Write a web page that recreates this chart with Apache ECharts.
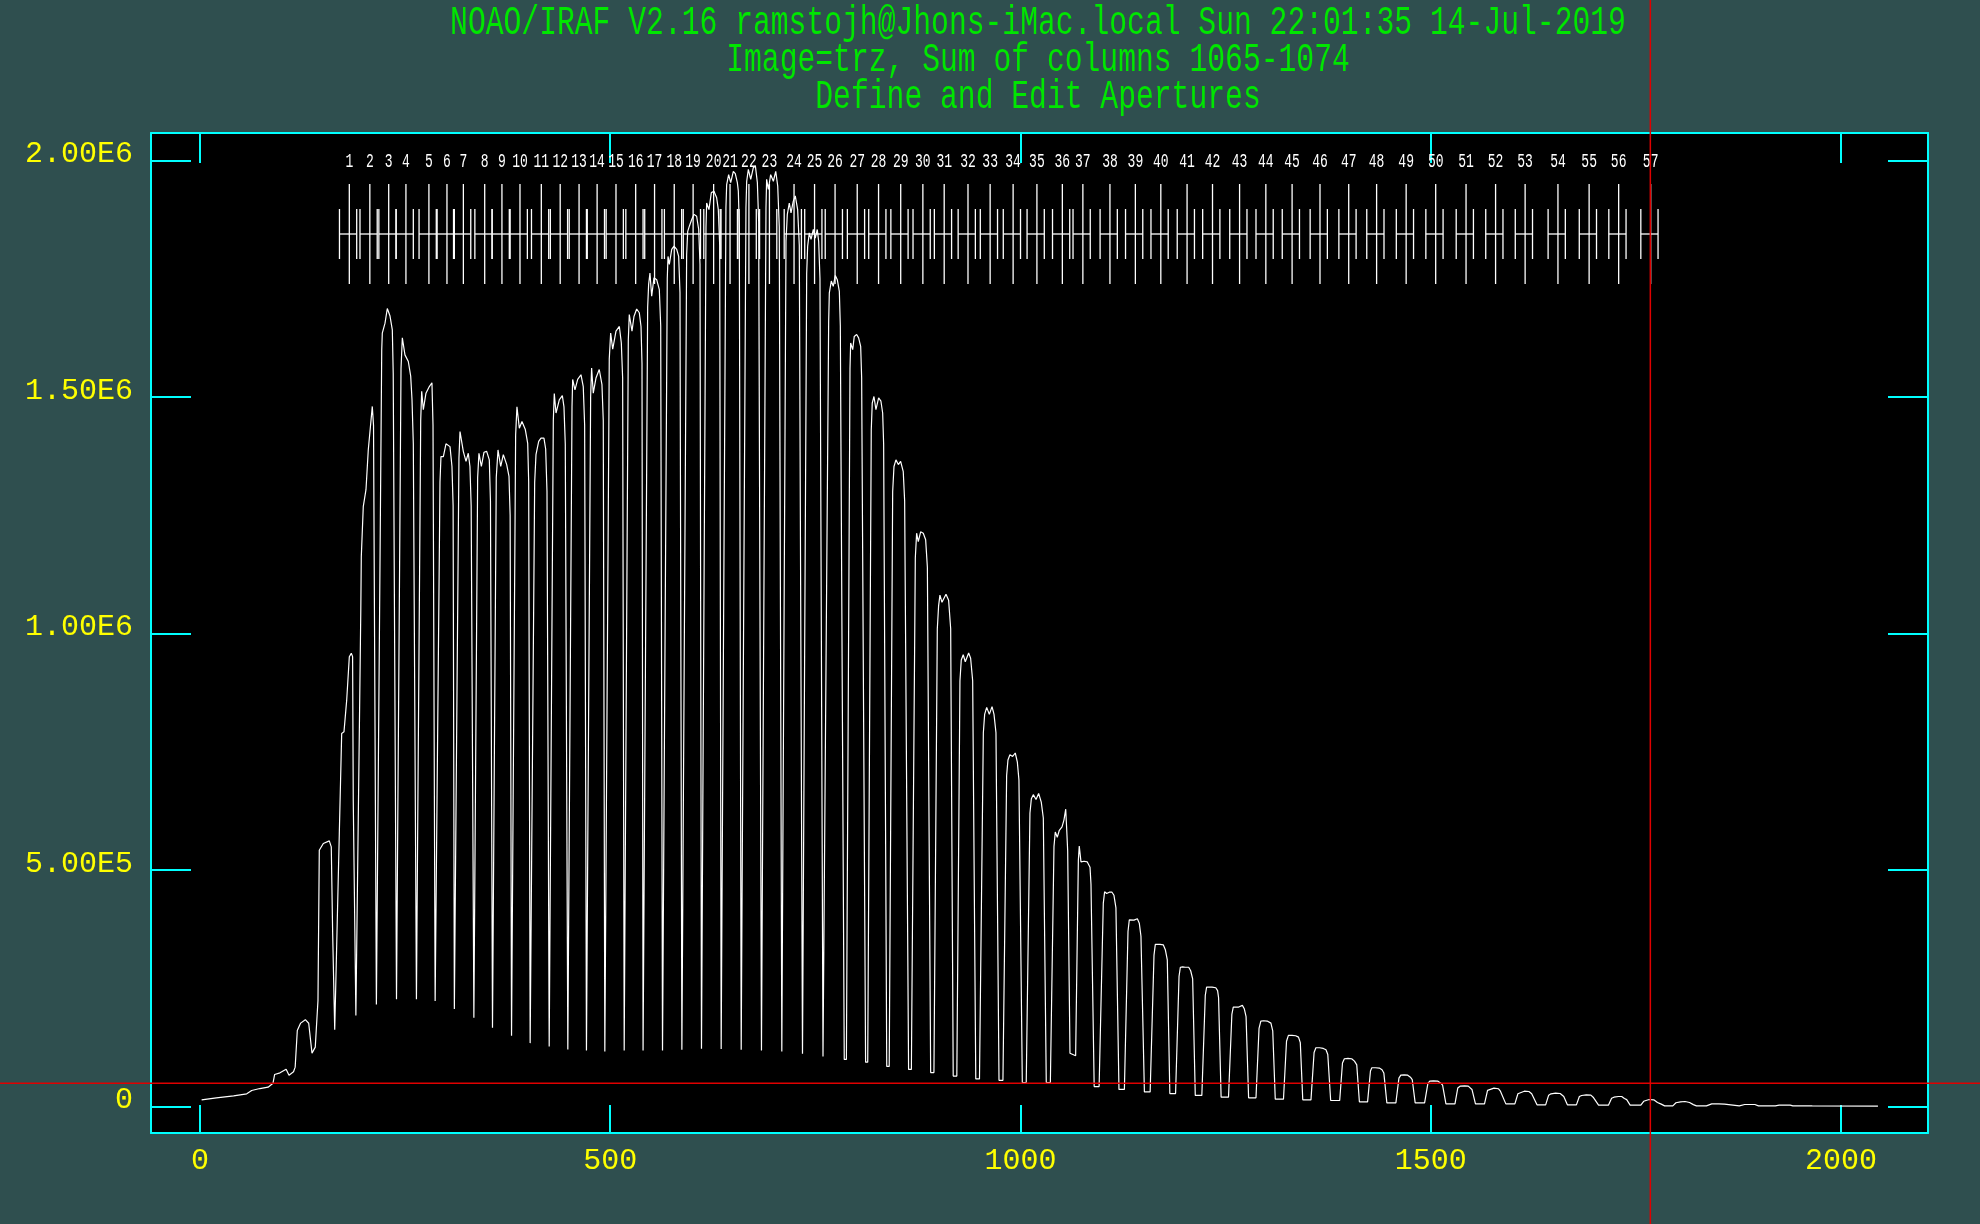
<!DOCTYPE html>
<html>
<head>
<meta charset="utf-8">
<title>Define and Edit Apertures</title>
<script src="https://cdn.jsdelivr.net/npm/echarts@6/dist/echarts.min.js"></script>
<style>
html, body { margin: 0; padding: 0; background: #2f4f4f; }
#main { width: 1980px; height: 1224px; }
</style>
</head>
<body>
<div id="main"></div>
<script>
var titleLines = [
    'NOAO/IRAF V2.16 ramstojh@Jhons-iMac.local Sun 22:01:35 14-Jul-2019',
    'Image=trz, Sum of columns 1065-1074',
    'Define and Edit Apertures'
];

// aperture centres (pixels along the slit), numbered 1..57
var apCenters = [182, 207, 230, 251, 279, 301, 321, 347, 368, 390, 416, 439, 462, 484, 507, 531, 554, 578, 601, 626,
    646, 669, 694, 724, 749, 774, 801, 827, 854, 881, 907, 936, 963, 991, 1020, 1051, 1076, 1109, 1140, 1171,
    1203, 1234, 1267, 1299, 1331, 1365, 1400, 1434, 1470, 1506, 1543, 1579, 1615, 1655, 1693, 1729, 1768];
var apLow = -12;
var apHigh = 9;

// cursor position (pixel, counts)
var cursorPos = [1767.6, 49000];

// summed profile: [pixel, counts]
var profile = [
    [2, 14200], [20, 18400], [41, 22600], [57, 26900], [63, 33900], [73, 38000], [83, 40900],
    [89, 49300], [91, 67700], [97.5, 71200], [105, 79000], [108.5, 66300], [114, 73400], [116, 83200],
    [118.6, 160800], [122.7, 176300], [128.4, 183500], [132.5, 176000], [136.5, 112800], [140.5, 125500],
    [143.8, 224000], [145.4, 541800], [150.3, 556000], [157.6, 561500], [160, 548800], [161.7, 365500], [164.2, 162300], [165.8, 163000],
    // 1
    [169.8, 577000], [172.7, 788800], [175.5, 792000], [178.8, 859000], [182, 950900], [184.4, 958000], [186, 951000], [186.8, 647000],
    [190, 192600], [192, 192600],
    // 2
    [196, 1050000], [196.6, 1163000], [199, 1268000], [202.3, 1304000], [205.1, 1388000], [210, 1480000], [211.5, 1440000],
    [215, 215900], [217, 215900],
    // 3
    [221.5, 1600000], [222.2, 1635000], [225.5, 1656000], [228.3, 1687000], [231.6, 1671000], [234.4, 1642000], [235.5, 1550000],
    [239.5, 226500], [241.5, 226500],
    // 4
    [245, 1560000], [246.6, 1625000], [249.8, 1589000], [253.9, 1575000], [256.8, 1544000], [258.4, 1494000], [260, 1400000],
    [263.8, 226500], [265.8, 226500],
    // 5
    [269, 1450000], [270.2, 1512000], [272.2, 1473000], [275.4, 1508000], [279.5, 1522000], [282.7, 1530000], [284, 1440000],
    [286.6, 222900], [288.6, 222900],
    // 6
    [292.5, 1320000], [293.7, 1374000], [296.6, 1374000], [299.8, 1401000], [304.7, 1395000], [307.1, 1353000], [308.5, 1270000],
    [310, 206000], [312, 206000],
    // 7
    [315.6, 1370000], [316.9, 1427000], [320.9, 1385000], [324.2, 1364000], [327, 1381000], [329, 1353000], [330.5, 1270000],
    [333.8, 187700], [335.8, 187700],
    // 8
    [338.4, 1330000], [340, 1381000], [342.9, 1353000], [346.1, 1383000], [349.4, 1385000], [352.6, 1367000], [354, 1280000],
    [356.5, 166500], [358.5, 166500],
    // 9
    [361.1, 1330000], [363.2, 1388000], [366.5, 1353000], [369.7, 1378000], [373.8, 1357000], [376.6, 1332000], [378, 1250000],
    [379.7, 149600], [381.7, 149600],
    // 10
    [384.7, 1420000], [386.3, 1479000], [389.2, 1434000], [392.4, 1448000], [396.5, 1431000], [399.4, 1402000], [400.6, 1320000],
    [402.4, 134000], [404.4, 134000],
    // 11
    [407.9, 1320000], [409.5, 1378000], [412.8, 1406000], [415.6, 1413000], [419.2, 1413000], [421.3, 1390000], [422.9, 1300000],
    [425.6, 127000], [427.6, 127000],
    // 12
    [430.6, 1450000], [431.8, 1507000], [433.9, 1466000], [437.9, 1494000], [441.6, 1503000], [443.6, 1479000], [445.2, 1400000],
    [448.3, 120600], [450.3, 120600],
    // 13
    [453.4, 1480000], [454.2, 1537000], [457, 1515000], [460.3, 1537000], [464.3, 1547000], [467.1, 1522000], [468.8, 1440000],
    [471, 118500], [473, 118500],
    // 14
    [476.1, 1500000], [477.3, 1561000], [479.3, 1508000], [482.6, 1540000], [486.6, 1558000], [489.9, 1526000], [491.5, 1450000],
    [493.4, 116400], [495.4, 116400],
    // 15
    [498.8, 1580000], [500.5, 1635000], [503, 1601000], [507, 1639000], [511.1, 1649000], [513.5, 1614000], [515.1, 1540000],
    [517, 118500], [519, 118500],
    // 16
    [522, 1620000], [523.2, 1674000], [526.5, 1639000], [528.9, 1670000], [532.2, 1686000], [535.4, 1678000], [537.5, 1649000], [538.7, 1570000],
    [540, 118500], [542, 118500],
    // 17
    [545.6, 1690000], [546.8, 1738000], [548.4, 1762000], [550.5, 1713000], [553.3, 1752000], [556.6, 1748000], [559.8, 1727000], [561.5, 1650000],
    [563.7, 118500], [565.7, 118500],
    // 18
    [569.5, 1750000], [570.4, 1797000], [572, 1780000], [574.9, 1812000], [577.7, 1819000], [581, 1812000], [583.4, 1797000], [585, 1720000],
    [587.3, 120000], [589.3, 120000],
    // 19
    [593.1, 1800000], [594.4, 1850000], [596.4, 1861000], [599.3, 1875000], [602.1, 1886000], [605.3, 1882000], [607.8, 1854000], [609.4, 1780000],
    [611.2, 122000], [613.2, 122000],
    // 20
    [616.7, 1860000], [617.5, 1910000], [620.3, 1896000], [623.2, 1932000], [626.4, 1935000], [629.7, 1921000], [631.7, 1896000], [633.4, 1820000],
    [635.2, 121500], [637.2, 121500],
    // 21
    [641, 1900000], [641.9, 1949000], [644.3, 1970000], [646.8, 1953000], [650, 1977000], [652.4, 1972000], [654.9, 1953000], [656.1, 1935000], [657.3, 1860000],
    [659.6, 120000], [661.6, 120000],
    // 22
    [665.4, 1900000], [666.3, 1956000], [668.3, 1981000], [671.2, 1960000], [674.4, 1985000], [676.9, 1988000], [679.3, 1953000], [680.9, 1870000],
    [684.3, 118500], [686.3, 118500],
    // 23
    [689.8, 1900000], [690.6, 1960000], [692.7, 1939000], [695.5, 1970000], [698.8, 1956000], [701.7, 1977000], [704.1, 1946000], [706, 1860000],
    [709.1, 116400], [711.1, 116400],
    // 24
    [714.2, 1830000], [715.8, 1886000], [718.2, 1910000], [720.3, 1889000], [723.1, 1914000], [725.5, 1925000], [728.4, 1896000], [730.4, 1820000],
    [734.3, 111500], [736.3, 111500],
    // 25
    [739.4, 1760000], [740.6, 1819000], [742.6, 1847000], [744.7, 1833000], [747.5, 1854000], [749.9, 1836000], [752.3, 1854000], [754, 1829000], [755.6, 1750000],
    [759.3, 105800], [761.7, 105800],
    // 26
    [766.2, 1660000], [767, 1720000], [769.4, 1745000], [771.8, 1734000], [774.3, 1757000], [776.7, 1748000], [779.2, 1723000], [780.4, 1650000],
    [785.2, 99500], [787.8, 99500],
    // 27
    [792.2, 1560000], [793, 1614000], [795.5, 1600000], [797.4, 1628000], [800.3, 1632000], [802.7, 1625000], [805.2, 1607000], [806.4, 1540000],
    [811.2, 93800], [813.8, 93800],
    // 28
    [818.1, 1430000], [819.3, 1487000], [821.4, 1501000], [823.8, 1473000], [827.1, 1498000], [829.9, 1491000], [832, 1466000], [833.2, 1400000],
    [837, 84700], [840, 84700],
    // 29
    [844.2, 1300000], [845.8, 1353000], [848.2, 1367000], [851.1, 1357000], [853.9, 1364000], [857.1, 1342000], [858.8, 1280000],
    [863.6, 78300], [867, 78300],
    // 30
    [871.8, 1160000], [873.4, 1212000], [875.4, 1194000], [878.3, 1215000], [881.5, 1212000], [884.4, 1198000], [886.5, 1140000],
    [890.5, 71700], [894.5, 71700],
    // 31
    [898.6, 1010000], [900.2, 1059000], [901.8, 1081000], [904.3, 1066000], [909.2, 1083000], [912.4, 1070000], [914.9, 1010000],
    [918, 64300], [922.4, 64300],
    // 32
    [926.2, 900000], [927.8, 943900], [930.2, 955000], [932.7, 940300], [936.8, 958700], [939.2, 947700], [941.7, 900000],
    [945.5, 58400], [950, 58400],
    // 33
    [954.7, 790000], [956.3, 829000], [958.8, 843800], [962, 829000], [965.3, 845300], [967.7, 829000], [970.1, 790000],
    [973.8, 55400], [978.6, 55400],
    // 34
    [983.1, 700000], [984.7, 732500], [987.1, 743500], [990.4, 740000], [993.6, 747300], [996.1, 728700], [998.1, 690000],
    [1002.2, 50800], [1007, 50800],
    // 35
    [1011.5, 620000], [1013.2, 650400], [1015.6, 659300], [1018.9, 649000], [1022.1, 661600], [1025.3, 643400], [1027.8, 610000],
    [1031.4, 50800], [1036.4, 50800],
    // 36
    [1040.8, 550000], [1042.4, 580300], [1044.8, 569100], [1047.3, 584000], [1050.6, 591300], [1053, 606100], [1055.1, 628600], [1056.2, 590000], [1057.5, 540000],
    [1060.3, 112600], [1067.2, 107300],
    // 37
    [1070.5, 520000], [1071.6, 550500], [1073.7, 517200], [1077.4, 518500], [1081.4, 517000], [1084.7, 506000], [1085.9, 470000],
    [1089.8, 42100], [1095.8, 42100],
    // 38
    [1100.9, 430000], [1102.5, 454000], [1105, 450300], [1108.2, 453000], [1111.5, 453000], [1113.9, 446500], [1116.3, 420000],
    [1120, 36200], [1126.6, 36200],
    // 39
    [1131, 370000], [1132.6, 394700], [1135, 396000], [1138.3, 394000], [1142.4, 396800], [1144.8, 387300], [1146.8, 360000],
    [1151, 30900], [1158, 30900],
    // 40
    [1162.7, 320000], [1164.3, 342600], [1166.7, 341500], [1170, 342600], [1174.1, 341500], [1176.5, 331600], [1178.9, 310000],
    [1182, 27300], [1189, 27300],
    // 41
    [1193.2, 275000], [1194.8, 294400], [1197.6, 295000], [1200.8, 294400], [1205, 294400], [1207.4, 287000], [1209.8, 270000],
    [1213, 23400], [1221, 23400],
    // 42
    [1225.2, 235000], [1226.8, 252500], [1229.1, 249000], [1233.5, 252500], [1238, 251000], [1240.2, 245000], [1241.4, 230000],
    [1244.5, 19700], [1253.5, 19700],
    // 43
    [1257.6, 195000], [1259.3, 210200], [1261.5, 213800], [1266, 210200], [1270.4, 213800], [1272.7, 206800], [1274.9, 190000],
    [1278, 18400], [1287, 18400],
    // 44
    [1290.7, 165000], [1292.9, 180600], [1296.3, 181300], [1300.7, 180600], [1305.2, 176300], [1307.4, 160000],
    [1310.5, 15500], [1320.5, 15500],
    // 45
    [1324.2, 138000], [1326.5, 150300], [1330.9, 150300], [1335.4, 149600], [1338.8, 146700], [1341, 135000],
    [1344, 14100], [1354, 14100],
    // 46
    [1357.8, 114000], [1360, 124200], [1364.5, 124200], [1369, 122800], [1372.3, 120000], [1374.5, 110000],
    [1378, 12700], [1389, 12700],
    // 47
    [1392.4, 92000], [1394.7, 101000], [1399.1, 101700], [1403.6, 101000], [1407, 95900], [1409.8, 88000],
    [1413, 9900], [1423, 9900],
    // 48
    [1426.5, 75000], [1428.2, 81900], [1432.7, 81900], [1437.3, 81200], [1440.6, 77700], [1442.8, 71000],
    [1446.5, 7800], [1457.5, 7800],
    // 49
    [1461.2, 60000], [1463.5, 66300], [1467.5, 67000], [1471.9, 66300], [1475.2, 62000], [1477.4, 57000],
    [1481, 7800], [1492.5, 7800],
    // 50
    [1496.5, 49000], [1498.8, 53600], [1503.2, 54300], [1508.8, 53600], [1512.2, 49300], [1514.4, 45000],
    [1518.5, 5600], [1529.5, 5600],
    // 51
    [1532.9, 39000], [1535.7, 43000], [1541.3, 43700], [1545.7, 43000], [1548.1, 39600], [1550.2, 36000],
    [1554.5, 5600], [1565.5, 5600],
    // 52
    [1569.2, 34000], [1571.5, 37500], [1577, 38900], [1582.6, 37500], [1584.9, 32400], [1587.2, 29000],
    [1591.5, 5600], [1602.5, 5600],
    // 53
    [1606.2, 27000], [1608.5, 30300], [1614, 32400], [1619.6, 31700], [1623, 26900], [1625.2, 24000],
    [1629.5, 3500], [1640, 3500],
    // 54
    [1643.7, 24000], [1646.5, 26900], [1652.1, 28200], [1657.7, 27500], [1659.9, 23300], [1662.1, 21000],
    [1666.5, 3500], [1677.5, 3500],
    // 55
    [1681.1, 21000], [1683.9, 23300], [1689.5, 24700], [1695.1, 24000], [1697.9, 19700], [1700.2, 17000],
    [1704.5, 2800], [1716.5, 2800],
    // 56
    [1720.4, 17500], [1723.2, 19700], [1728.8, 21200], [1732.7, 21200], [1736, 16900], [1738.8, 14500],
    [1743, 2800], [1756, 2800],
    // 57
    [1759.5, 11000], [1762.3, 12700], [1766.2, 14800], [1771.8, 14100], [1776.3, 8500], [1780.9, 5000],
    [1785, 1400], [1795, 1400],
    // faint fibres beyond the last aperture
    [1798.8, 8000], [1804.4, 9900], [1809.9, 10600], [1815.4, 8500], [1820, 4000], [1823.8, 1400],
    [1836, 1400], [1842.4, 5600], [1851, 5600], [1858, 4900], [1860.3, 1400],
    [1876, 1400], [1882.6, 4200], [1895, 4200], [1899.4, 1400],
    [1920, 1400], [1924.6, 2800], [1938, 2800], [1941.3, 1400],
    [1965, 1200], [2045, 1000]
];

var xMin = -59.7, xMax = 2106;
var yMin = -56000, yMax = 2058000;

var textFont = 'Liberation Mono';
var cyan = '#00ffff';
var yellow = '#ffff00';

function sciLabel(v) {
    if (v % 500000 !== 0) return '';
    if (v === 0) return '0';
    return v.toExponential(2).toUpperCase().replace('+', '');
}

function xLabel(v) {
    return v % 500 === 0 ? String(v) : '';
}

function axisX(pos, showLabel) {
    return {
        type: 'value', position: pos, min: xMin, max: xMax,
        minInterval: 500, maxInterval: 500,
        axisLine: { show: true, onZero: false, lineStyle: { color: cyan, width: 2 } },
        axisTick: { show: true, inside: true, length: pos === 'top' ? 30 : 28, lineStyle: { color: cyan, width: 2 } },
        axisLabel: {
            show: showLabel, color: yellow, fontFamily: textFont, fontSize: 30,
            margin: 13, formatter: xLabel
        },
        splitLine: { show: false }
    };
}

function axisY(pos, showLabel) {
    return {
        type: 'value', position: pos, min: yMin, max: yMax,
        minInterval: 500000, maxInterval: 500000,
        axisLine: { show: true, onZero: false, lineStyle: { color: cyan, width: 2 } },
        axisTick: { show: true, inside: true, length: 40, lineStyle: { color: cyan, width: 2 } },
        axisLabel: {
            show: showLabel, color: yellow, fontFamily: textFont, fontSize: 30,
            margin: 18, verticalAlign: 'bottom', lineHeight: 12, formatter: sciLabel
        },
        splitLine: { show: false }
    };
}

function renderAperture(params, api) {
    var c = api.value(0);
    var num = api.value(1);
    var p = api.coord([c, yMax]);
    var pl = api.coord([c + apLow, yMax]);
    var ph = api.coord([c + apHigh, yMax]);
    var top = p[1];
    var ym = top + 101;
    var st = { stroke: '#ffffff', lineWidth: 1.3 };
    return {
        type: 'group',
        children: [
            { type: 'line', shape: { x1: p[0], y1: ym - 50, x2: p[0], y2: ym + 50 }, style: st },
            { type: 'line', shape: { x1: pl[0], y1: ym - 25, x2: pl[0], y2: ym + 25 }, style: st },
            { type: 'line', shape: { x1: ph[0], y1: ym - 25, x2: ph[0], y2: ym + 25 }, style: st },
            { type: 'line', shape: { x1: pl[0], y1: ym, x2: ph[0], y2: ym }, style: st },
            {
                type: 'text', x: p[0], y: top + 28.5, scaleY: 1.5,
                style: {
                    text: String(num), fill: '#ffffff',
                    font: '13px "' + textFont + '"',
                    align: 'center', verticalAlign: 'middle',
                    textAlign: 'center', textVerticalAlign: 'middle'
                }
            }
        ]
    };
}

var titleY = [23.3, 60, 96.7];

var myChart = echarts.init(document.getElementById('main'));

option = {
    backgroundColor: '#2f4f4f',
    animation: false,
    grid: { left: 151, right: 52, top: 133, bottom: 91, show: true, backgroundColor: '#000000', borderWidth: 0 },
    xAxis: [axisX('bottom', true), axisX('top', false)],
    yAxis: [axisY('left', true), axisY('right', false)],
    graphic: titleLines.map(function (t, i) {
        return {
            type: 'text', id: 'title' + i, x: 1038, y: titleY[i], scaleY: 1.38, z: 50,
            style: {
                text: t, fill: '#00e600', font: '29.7px "' + textFont + '"',
                align: 'center', verticalAlign: 'middle'
            }
        };
    }),
    series: [
        {
            name: 'profile',
            type: 'line',
            data: profile,
            xAxisIndex: 0,
            yAxisIndex: 0,
            showSymbol: false,
            symbol: 'none',
            lineStyle: { color: '#ffffff', width: 1.2 },
            z: 2
        },
        {
            name: 'apertures',
            type: 'custom',
            xAxisIndex: 0,
            yAxisIndex: 0,
            data: apCenters.map(function (c, i) { return [c, i + 1]; }),
            renderItem: renderAperture,
            z: 3
        }
    ]
};
myChart.setOption(option);

// cursor cross-hair across the whole window
var cp = myChart.convertToPixel({ xAxisIndex: 0, yAxisIndex: 0 }, cursorPos);
myChart.setOption({
    graphic: [
        { type: 'line', id: 'curH', z: 100, shape: { x1: 0, y1: cp[1], x2: 1980, y2: cp[1] }, style: { stroke: '#e00000', lineWidth: 1.5 } },
        { type: 'line', id: 'curV', z: 100, shape: { x1: cp[0], y1: 0, x2: cp[0], y2: 1224 }, style: { stroke: '#e00000', lineWidth: 1.5 } }
    ]
});
</script>
</body>
</html>
